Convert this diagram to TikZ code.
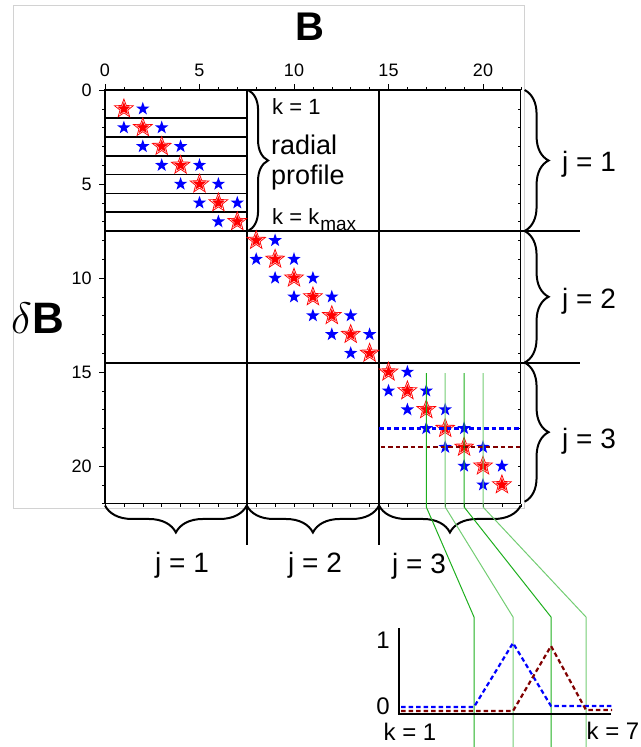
\RequirePackage{fix-cm}
\documentclass[tikz,border=0pt]{standalone}
\usepackage{fontspec}
\setmainfont{Liberation Sans}
\usetikzlibrary{shapes.geometric,decorations.pathreplacing}
\definecolor{dred}{RGB}{128,0,0}
\definecolor{gA}{RGB}{30,175,30}
\definecolor{gB}{RGB}{115,205,115}
\begin{document}
\begin{tikzpicture}[x=1pt,y=-1pt,
  redstar/.style={star,star points=5,star point ratio=2.4,minimum size=15.5pt,inner sep=0pt,fill=red,draw=red,line width=0.9pt,double=white,double distance=0.35pt},
  bluestar/.style={star,star points=5,star point ratio=2.5,minimum size=14pt,inner sep=0pt,fill=blue},
  gridline/.style={line width=2.2pt},
  rowline/.style={line width=1.7pt},
  tickmark/.style={line width=0.6pt},
  bracedeco/.style={decorate,line width=2pt,decoration={brace,amplitude=#1}},
  ticklab/.style={font=\fontsize{18}{20}\selectfont,inner sep=0pt},
  jlab/.style={font=\fontsize{28}{30}\selectfont,anchor=base west,inner sep=0pt},
  klab/.style={font=\fontsize{22}{24}\selectfont,anchor=base west,inner sep=0pt},
  insetlab/.style={font=\fontsize{24}{26}\selectfont,inner sep=0pt},
  bluedash/.style={blue,line width=2.2pt,dash pattern=on 4.5pt off 3pt},
  reddash/.style={dred,line width=2.2pt,dash pattern=on 4.5pt off 3pt},
  greenline/.style={line width=1pt,draw=#1},
]
\useasboundingbox (0,0) rectangle (640,747);
\draw[gray!35,line width=0.8pt] (13,5) rectangle (524,508);

\node[font=\fontsize{40}{40}\selectfont\bfseries] (title) at (310,27) {B};
\node[font=\fontsize{44}{44}\selectfont,inner sep=0pt] (ylab) at (38,318) {$\delta$\kern1pt\textbf{B}};

\begin{scope}[shift={(105,90)},x=18.9pt,y=-18.8pt]
  \foreach \t in {0,...,22}{
    \draw[tickmark] (\t,0) -- (\t,-0.16);
    \draw[tickmark] (0,\t) -- (-0.16,\t);
    \draw[tickmark] (22,\t) -- (21.84,\t);
    \draw[tickmark] (\t,22) -- (\t,22.16);
  }
  \foreach \t in {0,5,10,15,20}{
    \draw[tickmark] (\t,0) -- (\t,-0.3);
    \draw[tickmark] (0,\t) -- (-0.3,\t);
    \node[ticklab] (tx\t) at (\t,-1.06) {\t};
    \node[ticklab,anchor=east] (ty\t) at (-0.7,\t) {\t};
  }
  \draw[line width=1.3pt] (0,22) -- (0,0) -- (22,0);
  \draw[line width=0.9pt] (22,0) -- (22,22) -- (0,22);
  \foreach \y in {1.5,2.5,...,6.5} \draw[rowline] (0,\y) -- (7.5,\y);
  \draw[gridline] (7.5,0) -- (7.5,24.2);
  \draw[gridline] (14.5,0) -- (14.5,24.2);
  \draw[gridline] (0,7.5) -- (25.15,7.5);
  \draw[gridline] (0,14.5) -- (25.15,14.5);
  \foreach \b in {0,7,14}{
    \foreach \i in {1,...,7}{
      \pgfmathtruncatemacro\n{\b+\i}
      \pgfmathtruncatemacro\m{\n-1}
      \pgfmathtruncatemacro\p{\n+1}
      \ifnum\i>1 \node[bluestar] (bl\n) at (\m,\n) {};\fi
      \ifnum\i<7 \node[bluestar] (br\n) at (\p,\n) {};\fi
      \node[redstar] (rs\n) at (\n,\n) {};
    }
  }
  \draw[bluedash] (14.5,18) -- (22,18);
  \draw[reddash] (14.6,19) -- (22,19);
  \draw[bracedeco=20pt] (7.57,0) -- (7.57,7.5);
  \draw[bracedeco=24pt] (22.2,0) -- (22.2,7.5);
  \draw[bracedeco=24pt] (22.2,7.5) -- (22.2,14.5);
  \draw[bracedeco=24pt] (22.2,14.5) -- (22.2,21.9);
  \draw[bracedeco=27pt] (7.5,22.1) -- (0,22.1);
  \draw[bracedeco=27pt] (14.5,22.1) -- (7.5,22.1);
  \draw[bracedeco=27pt] (22,22.1) -- (14.5,22.1);
\end{scope}

\draw[greenline=gA] (426.3,373) -- (426.3,507) -- (474,617) -- (474,747);
\draw[greenline=gB] (445.2,373) -- (445.2,507) -- (513,617) -- (513,747);
\draw[greenline=gA] (464.1,373) -- (464.1,507) -- (551,617) -- (551,747);
\draw[greenline=gB] (483,373) -- (483,507) -- (586,617) -- (586,747);

\node[klab] (k1) at (272,114) {k = 1};
\node[font=\fontsize{27}{30}\selectfont,align=left,anchor=north west,inner sep=0pt] (radial) at (271,135) {radial\\profile};
\node[klab] (kmax) at (272,224) {k = k\kern1pt\raisebox{-6pt}{\fontsize{19}{19}\selectfont max}};

\node[jlab] (jr1) at (562,171) {j = 1};
\node[jlab] (jr2) at (562,308) {j = 2};
\node[jlab] (jr3) at (562,448) {j = 3};
\node[jlab] (jb1) at (155,572) {j = 1};
\node[jlab] (jb2) at (288,572) {j = 2};
\node[jlab] (jb3) at (392,573) {j = 3};

\coordinate (ax0) at (399,628);
\coordinate (axo) at (399,714);
\coordinate (ax1) at (611,714);
\draw[line width=2.5pt] (ax0) -- (axo) -- (ax1);
\draw[bluedash] (401,707) -- (474,707) -- (513,643) -- (551,706) -- (612,706);
\draw[reddash] (401,711) -- (513,711) -- (551,646) -- (586,710) -- (612,710);
\node[insetlab] (one) at (383,640) {1};
\node[insetlab] (zero) at (383,706) {0};
\node[insetlab] (kone) at (410,732) {k = 1};
\node[insetlab] (kseven) at (613,731) {k = 7};
\end{tikzpicture}
\end{document}
